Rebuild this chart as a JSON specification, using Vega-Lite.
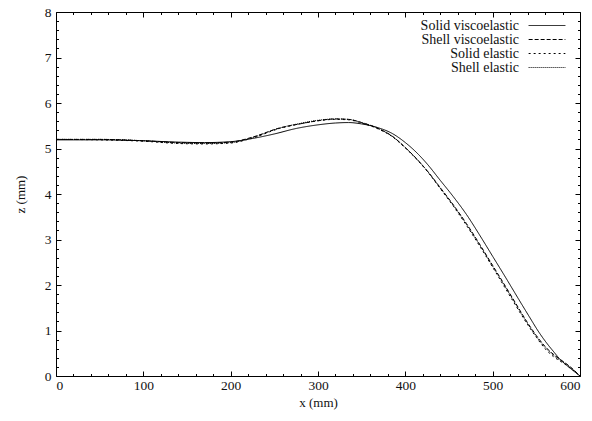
{
  "$schema": "https://vega.github.io/schema/vega-lite/v6.json",
  "width": 524,
  "height": 364,
  "autosize": "none",
  "padding": {"left": 56, "top": 12, "right": 12, "bottom": 45},
  "background": "white",
  "config": {
    "font": "Liberation Serif",
    "view": {"stroke": "#000", "strokeWidth": 1},
    "axis": {"grid": false, "domain": false, "tickColor": "#000", "labelColor": "#111", "titleColor": "#111", "labelFont": "Liberation Serif", "titleFont": "Liberation Serif", "labelFontSize": 13.5, "titleFontSize": 13, "titleFontWeight": "normal"}
  },
  "data": {"values": [
    {"s":"Solid viscoelastic","x":0,"z":5.19},{"s":"Solid viscoelastic","x":50,"z":5.19},{"s":"Solid viscoelastic","x":100,"z":5.17},{"s":"Solid viscoelastic","x":140,"z":5.14},{"s":"Solid viscoelastic","x":170,"z":5.13},{"s":"Solid viscoelastic","x":200,"z":5.15},{"s":"Solid viscoelastic","x":225,"z":5.22},{"s":"Solid viscoelastic","x":250,"z":5.32},{"s":"Solid viscoelastic","x":275,"z":5.44},{"s":"Solid viscoelastic","x":300,"z":5.52},{"s":"Solid viscoelastic","x":320,"z":5.56},{"s":"Solid viscoelastic","x":335,"z":5.57},{"s":"Solid viscoelastic","x":350,"z":5.54},{"s":"Solid viscoelastic","x":370,"z":5.45},{"s":"Solid viscoelastic","x":385,"z":5.33},{"s":"Solid viscoelastic","x":400,"z":5.13},{"s":"Solid viscoelastic","x":415,"z":4.87},{"s":"Solid viscoelastic","x":425,"z":4.66},{"s":"Solid viscoelastic","x":440,"z":4.30},{"s":"Solid viscoelastic","x":455,"z":3.94},{"s":"Solid viscoelastic","x":470,"z":3.55},{"s":"Solid viscoelastic","x":485,"z":3.10},{"s":"Solid viscoelastic","x":500,"z":2.63},{"s":"Solid viscoelastic","x":515,"z":2.16},{"s":"Solid viscoelastic","x":530,"z":1.68},{"s":"Solid viscoelastic","x":543,"z":1.27},{"s":"Solid viscoelastic","x":552,"z":0.99},{"s":"Solid viscoelastic","x":562,"z":0.72},{"s":"Solid viscoelastic","x":570,"z":0.53},{"s":"Solid viscoelastic","x":577,"z":0.37},{"s":"Solid viscoelastic","x":585,"z":0.23},{"s":"Solid viscoelastic","x":592,"z":0.12},{"s":"Solid viscoelastic","x":600,"z":0.0},

    {"s":"Shell viscoelastic","x":0,"z":5.2},{"s":"Shell viscoelastic","x":50,"z":5.2},{"s":"Shell viscoelastic","x":100,"z":5.17},{"s":"Shell viscoelastic","x":140,"z":5.13},{"s":"Shell viscoelastic","x":170,"z":5.12},{"s":"Shell viscoelastic","x":200,"z":5.14},{"s":"Shell viscoelastic","x":225,"z":5.25},{"s":"Shell viscoelastic","x":256,"z":5.45},{"s":"Shell viscoelastic","x":279,"z":5.54},{"s":"Shell viscoelastic","x":300,"z":5.61},{"s":"Shell viscoelastic","x":320,"z":5.65},{"s":"Shell viscoelastic","x":335,"z":5.64},{"s":"Shell viscoelastic","x":350,"z":5.57},{"s":"Shell viscoelastic","x":370,"z":5.43},{"s":"Shell viscoelastic","x":385,"z":5.27},{"s":"Shell viscoelastic","x":400,"z":5.02},{"s":"Shell viscoelastic","x":415,"z":4.73},{"s":"Shell viscoelastic","x":425,"z":4.51},{"s":"Shell viscoelastic","x":440,"z":4.14},{"s":"Shell viscoelastic","x":455,"z":3.76},{"s":"Shell viscoelastic","x":470,"z":3.35},{"s":"Shell viscoelastic","x":485,"z":2.90},{"s":"Shell viscoelastic","x":500,"z":2.43},{"s":"Shell viscoelastic","x":515,"z":1.96},{"s":"Shell viscoelastic","x":526,"z":1.61},{"s":"Shell viscoelastic","x":539,"z":1.20},{"s":"Shell viscoelastic","x":550,"z":0.89},{"s":"Shell viscoelastic","x":560,"z":0.65},{"s":"Shell viscoelastic","x":570,"z":0.47},{"s":"Shell viscoelastic","x":577,"z":0.37},{"s":"Shell viscoelastic","x":585,"z":0.26},{"s":"Shell viscoelastic","x":592,"z":0.15},{"s":"Shell viscoelastic","x":600,"z":0.0},

    {"s":"Solid elastic","x":0,"z":5.2},{"s":"Solid elastic","x":50,"z":5.19},{"s":"Solid elastic","x":100,"z":5.16},{"s":"Solid elastic","x":140,"z":5.11},{"s":"Solid elastic","x":170,"z":5.10},{"s":"Solid elastic","x":200,"z":5.12},{"s":"Solid elastic","x":225,"z":5.23},{"s":"Solid elastic","x":256,"z":5.44},{"s":"Solid elastic","x":279,"z":5.54},{"s":"Solid elastic","x":300,"z":5.61},{"s":"Solid elastic","x":320,"z":5.64},{"s":"Solid elastic","x":335,"z":5.63},{"s":"Solid elastic","x":350,"z":5.56},{"s":"Solid elastic","x":370,"z":5.42},{"s":"Solid elastic","x":385,"z":5.26},{"s":"Solid elastic","x":400,"z":5.01},{"s":"Solid elastic","x":415,"z":4.72},{"s":"Solid elastic","x":425,"z":4.50},{"s":"Solid elastic","x":440,"z":4.12},{"s":"Solid elastic","x":455,"z":3.73},{"s":"Solid elastic","x":470,"z":3.31},{"s":"Solid elastic","x":485,"z":2.86},{"s":"Solid elastic","x":500,"z":2.39},{"s":"Solid elastic","x":515,"z":1.91},{"s":"Solid elastic","x":526,"z":1.56},{"s":"Solid elastic","x":539,"z":1.16},{"s":"Solid elastic","x":550,"z":0.85},{"s":"Solid elastic","x":560,"z":0.60},{"s":"Solid elastic","x":570,"z":0.42},{"s":"Solid elastic","x":577,"z":0.33},{"s":"Solid elastic","x":585,"z":0.23},{"s":"Solid elastic","x":592,"z":0.13},{"s":"Solid elastic","x":600,"z":0.0},

    {"s":"Shell elastic","x":0,"z":5.2},{"s":"Shell elastic","x":50,"z":5.2},{"s":"Shell elastic","x":100,"z":5.17},{"s":"Shell elastic","x":140,"z":5.12},{"s":"Shell elastic","x":170,"z":5.11},{"s":"Shell elastic","x":200,"z":5.13},{"s":"Shell elastic","x":225,"z":5.24},{"s":"Shell elastic","x":256,"z":5.45},{"s":"Shell elastic","x":279,"z":5.55},{"s":"Shell elastic","x":300,"z":5.62},{"s":"Shell elastic","x":320,"z":5.65},{"s":"Shell elastic","x":335,"z":5.64},{"s":"Shell elastic","x":350,"z":5.57},{"s":"Shell elastic","x":370,"z":5.43},{"s":"Shell elastic","x":385,"z":5.27},{"s":"Shell elastic","x":400,"z":5.02},{"s":"Shell elastic","x":415,"z":4.73},{"s":"Shell elastic","x":425,"z":4.51},{"s":"Shell elastic","x":440,"z":4.13},{"s":"Shell elastic","x":455,"z":3.75},{"s":"Shell elastic","x":470,"z":3.33},{"s":"Shell elastic","x":485,"z":2.88},{"s":"Shell elastic","x":500,"z":2.41},{"s":"Shell elastic","x":515,"z":1.94},{"s":"Shell elastic","x":526,"z":1.59},{"s":"Shell elastic","x":539,"z":1.18},{"s":"Shell elastic","x":550,"z":0.87},{"s":"Shell elastic","x":560,"z":0.63},{"s":"Shell elastic","x":570,"z":0.45},{"s":"Shell elastic","x":577,"z":0.35},{"s":"Shell elastic","x":585,"z":0.25},{"s":"Shell elastic","x":592,"z":0.14},{"s":"Shell elastic","x":600,"z":0.0}
  ]},
  "resolve": {"axis": {"x": "independent", "y": "independent"}},
  "layer": [
    {
      "mark": {"type": "line", "strokeWidth": 1, "color": "#000", "interpolate": "monotone"},
      "encoding": {
        "x": {"field": "x", "type": "quantitative", "scale": {"domain": [0, 600], "nice": false},
          "axis": {"orient": "bottom", "values": [0,20,40,60,80,100,120,140,160,180,200,220,240,260,280,300,320,340,360,380,400,420,440,460,480,500,520,540,560,580,600],
            "labelExpr": "datum.value % 100 === 0 ? datum.label : ''", "tickSize": {"condition": {"test": "datum.value % 100 === 0", "value": -5}, "value": -2.5}, "labelPadding": 7, "title": "x (mm)", "titlePadding": 5}},
        "y": {"field": "z", "type": "quantitative", "scale": {"domain": [0, 8], "nice": false},
          "axis": {"orient": "left", "values": [0,0.2,0.4,0.6,0.8,1,1.2,1.4,1.6,1.8,2,2.2,2.4,2.6,2.8,3,3.2,3.4,3.6,3.8,4,4.2,4.4,4.6,4.8,5,5.2,5.4,5.6,5.8,6,6.2,6.4,6.6,6.8,7,7.2,7.4,7.6,7.8,8],
            "labelExpr": "abs(datum.value - round(datum.value)) < 0.001 ? format(datum.value, 'd') : ''", "tickSize": {"condition": {"test": "abs(datum.value - round(datum.value)) < 0.001", "value": -5}, "value": -2.5}, "labelPadding": 10, "title": "z (mm)", "titlePadding": 17}},
        "strokeDash": {"field": "s", "type": "nominal",
          "scale": {"domain": ["Solid viscoelastic", "Shell viscoelastic", "Solid elastic", "Shell elastic"], "range": [[1, 0], [4, 2], [2, 3], [1, 1]]},
          "legend": {"title": null, "orient": "none", "legendX": 484, "legendY": 6.5, "symbolType": "M-3,0H3", "symbolSize": 150, "symbolFillColor": "transparent", "symbolStrokeColor": "#000", "symbolStrokeWidth": 1, "labelAlign": "right", "labelOffset": -35, "labelFont": "Liberation Serif", "labelFontSize": 14, "labelColor": "#111", "rowPadding": -3.7, "labelLimit": 200}}
      }
    },
    {
      "mark": {"type": "point", "opacity": 0},
      "encoding": {
        "x": {"field": "x", "type": "quantitative", "scale": {"domain": [0, 600], "nice": false},
          "axis": {"orient": "top", "values": [0,20,40,60,80,100,120,140,160,180,200,220,240,260,280,300,320,340,360,380,400,420,440,460,480,500,520,540,560,580,600],
            "labels": false, "title": null, "tickSize": {"condition": {"test": "datum.value % 100 === 0", "value": -5}, "value": -2.5}}},
        "y": {"field": "z", "type": "quantitative", "scale": {"domain": [0, 8], "nice": false},
          "axis": {"orient": "right", "values": [0,0.2,0.4,0.6,0.8,1,1.2,1.4,1.6,1.8,2,2.2,2.4,2.6,2.8,3,3.2,3.4,3.6,3.8,4,4.2,4.4,4.6,4.8,5,5.2,5.4,5.6,5.8,6,6.2,6.4,6.6,6.8,7,7.2,7.4,7.6,7.8,8],
            "labels": false, "title": null, "tickSize": {"condition": {"test": "abs(datum.value - round(datum.value)) < 0.001", "value": -5}, "value": -2.5}}}
      }
    }
  ]
}
